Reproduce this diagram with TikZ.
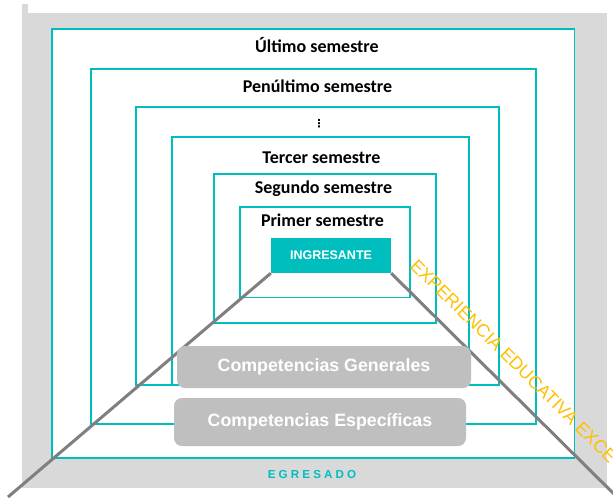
\documentclass[tikz,border=0pt]{standalone}
\usepackage{fontspec}
\setmainfont{Liberation Sans}
\newfontfamily\carlito{Carlito}
\newfontfamily\dejavu{DejaVu Sans}
\newfontfamily\spacedfont[LetterSpace=27]{Liberation Sans}
\definecolor{tealc}{RGB}{0,190,190}
\definecolor{bggray}{RGB}{217,217,217}
\definecolor{boxgray}{RGB}{191,191,191}
\definecolor{linegray}{RGB}{127,127,127}
\definecolor{goldc}{RGB}{255,192,0}
\pgfdeclarelayer{bglayer}
\pgfdeclarelayer{midlayer}
\pgfsetlayers{bglayer,midlayer,main}
\tikzset{
  sembox/.style={draw=tealc, line width=1.4pt, fill=white},
  semlabel/.style={anchor=base, inner sep=0pt, font=\carlito\bfseries\fontsize{18}{20}\selectfont, text=black},
  ingbox/.style={fill=tealc, minimum width=120pt, minimum height=35pt, inner sep=0pt,
    text=white, font=\bfseries\fontsize{12.5}{14}\selectfont},
  compbox/.style={fill=boxgray, rounded corners=8pt, inner sep=0pt, text=white,
    font=\bfseries\fontsize{17.8}{20}\selectfont},
  pathline/.style={draw=linegray, line width=3pt},
}
\begin{document}
\begin{tikzpicture}[x=1pt,y=-1pt]
\useasboundingbox (0,0) rectangle (613,499);
\begin{pgfonlayer}{bglayer}
% background
\fill[bggray] (22,13) rectangle (607,488);
\fill[bggray] (22,4) rectangle (28,13);
% nested semester boxes
\draw[sembox] (52,29) rectangle (574.5,458);
\draw[sembox] (91,69) rectangle (536,424);
\draw[sembox] (136,107) rectangle (499,385);
\draw[sembox] (172,137) rectangle (469,385);
\draw[sembox] (214,174) rectangle (436,323);
\draw[sembox] (240,207) rectangle (410,297.5);
\end{pgfonlayer}
% labels
\node[semlabel] (l1) at (317,52.5) {Último semestre};
\node[semlabel] (l2) at (317.5,92.5) {Penúltimo semestre};
\node[inner sep=0pt, font=\dejavu\bfseries\fontsize{11}{12}\selectfont] (l3) at (319,124) {⋮};
\node[semlabel] (l4) at (321.5,163.5) {Tercer semestre};
\node[semlabel] (l5) at (323.5,193.5) {Segundo semestre};
\node[semlabel] (l6) at (322.5,226.5) {Primer semestre};
% ingresante and the two lines
\node[ingbox] (ing) at (331,255.5) {INGRESANTE};
\coordinate (leftend) at (8,497);
\coordinate (rightend) at (615,495);
\begin{pgfonlayer}{midlayer}
\draw[pathline] (ing.south west) -- (leftend);
\draw[pathline] (ing.south east) -- (rightend);
\end{pgfonlayer}
% competencias
\node[compbox, minimum width=294pt, minimum height=42pt] (cg) at (324,367) {Competencias Generales};
\node[compbox, minimum width=292pt, minimum height=48pt] (ce) at (320,422) {Competencias Específicas};
% egresado
\node[inner sep=0pt, text=tealc, font=\spacedfont\bfseries\fontsize{11.6}{13}\selectfont] (egr) at (312,474) {EGRESADO};
% experiencia
\node[anchor=base west, inner sep=0pt, rotate=-44.5, text=goldc, font=\fontsize{18}{20}\selectfont] (exp) at (409,267) {EXPERIENCIA EDUCATIVA EXCE};
\end{tikzpicture}
\end{document}
